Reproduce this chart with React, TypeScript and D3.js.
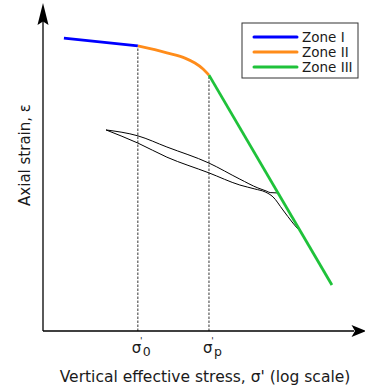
import React from "react";
import * as d3 from "d3";

// Data (x: log stress units 0–100, y: strain units 0–100)
const zone1X = [6.7, 30.4];
const zone1Y = [89.3, 86.9];
const zone2X = [30.4, 39.7, 45.5, 48.7, 51.3, 53.2];
const zone2Y = [86.9, 84.8, 83.2, 81.7, 79.9, 78.0];
const zone3X = [53.2, 92.6];
const zone3Y = [78.0, 14.0];
const unloadX = [20.2, 30.4, 39.7, 53.2, 63.1, 68.9, 71.5, 72.8, 75.0];
const unloadY = [61.3, 59.5, 56.1, 51.2, 46.3, 43.6, 42.7, 42.2, 42.1];
const reloadX = [20.2, 30.4, 39.7, 53.2, 63.1, 67.9, 71.2, 73.7, 76.9, 80.1, 81.7];
const reloadY = [61.3, 57.3, 53.0, 48.2, 44.5, 43.3, 42.4, 40.9, 36.9, 32.9, 31.1];
const sigmaTicks = [
  { x: 30.4, sub: "0", y: 86.9 },
  { x: 53.2, sub: "p", y: 78.0 },
];
const legendLabels = ["Zone I", "Zone II", "Zone III"];
const colors = ["#0000ff", "#ff8c1a", "#1fc23a"];

const W = 365;
const H = 387;
const FONT = "'DejaVu Sans', Verdana, sans-serif";

export default function App() {
  const x = d3.scaleLinear().domain([0, 100]).range([43, 355]);
  const y = d3.scaleLinear().domain([0, 100]).range([331, 3]);
  const zip = (xs: number[], ys: number[]) => xs.map((v, i) => [v, ys[i]] as [number, number]);
  const lin = d3.line<[number, number]>().x((d) => x(d[0])).y((d) => y(d[1]));
  const smooth = d3
    .line<[number, number]>()
    .x((d) => x(d[0]))
    .y((d) => y(d[1]))
    .curve(d3.curveMonotoneX);

  const ax0 = x(0);
  const ay0 = y(0);

  return (
    <div style={{ position: "absolute", left: 0, top: 0 }}>
      <svg width={W} height={H} style={{ display: "block", background: "#fff" }}>
        {/* dashed verticals */}
        {sigmaTicks.map((t, i) => (
          <line
            key={i}
            x1={x(t.x)}
            x2={x(t.x)}
            y1={y(0)}
            y2={y(t.y)}
            stroke="#000"
            strokeWidth={0.8}
            strokeDasharray="2.5,1.5"
          />
        ))}
        {/* axes */}
        <line x1={ax0} y1={ay0} x2={ax0} y2={20} stroke="#000" strokeWidth={1.3} />
        <line x1={ax0} y1={ay0} x2={354} y2={ay0} stroke="#000" strokeWidth={1.3} />
        <path d={`M${ax0},3 L${ax0 + 5.5},25 L${ax0},21.5 L${ax0 - 5.5},25 Z`} fill="#000" />
        <path d={`M366,${ay0} L351.5,${ay0 - 6} L355,${ay0} L351.5,${ay0 + 6} Z`} fill="#000" />
        {/* loop */}
        <path d={smooth(zip(unloadX, unloadY)) || ""} fill="none" stroke="#000" strokeWidth={1} />
        <path d={smooth(zip(reloadX, reloadY)) || ""} fill="none" stroke="#000" strokeWidth={1} />
        {/* zones */}
        <path d={lin(zip(zone1X, zone1Y)) || ""} fill="none" stroke={colors[0]} strokeWidth={2.8} />
        <path d={smooth(zip(zone2X, zone2Y)) || ""} fill="none" stroke={colors[1]} strokeWidth={2.8} />
        <path d={lin(zip(zone3X, zone3Y)) || ""} fill="none" stroke={colors[2]} strokeWidth={2.8} />
        {/* tick labels */}
        {sigmaTicks.map((t, i) => (
          <g key={"t" + i} fontFamily={FONT} fill="#1a1a1a">
            <text x={x(t.x) - 6} y={353} fontSize={15}>
              σ
            </text>
            <text x={x(t.x) + 3.5} y={344} fontSize={9} textAnchor="middle">
              '
            </text>
            <text x={x(t.x) + 5} y={356} fontSize={12.5}>
              {t.sub}
            </text>
          </g>
        ))}
        {/* axis titles */}
        <text x={205} y={382} textAnchor="middle" fontFamily={FONT} fontSize={15.5} fill="#1a1a1a">
          Vertical effective stress, σ' (log scale)
        </text>
        <text
          transform="translate(30,155) rotate(-90)"
          textAnchor="middle"
          fontFamily={FONT}
          fontSize={15}
          fill="#1a1a1a"
        >
          Axial strain, ε
        </text>
        {/* legend */}
        <rect x={242} y={23} width={116} height={55} fill="#fff" stroke="#333" strokeWidth={1} />
        {legendLabels.map((l, i) => (
          <g key={l}>
            <line x1={254} x2={297} y1={37 + i * 15} y2={37 + i * 15} stroke={colors[i]} strokeWidth={3} strokeLinecap="round" />
            <text x={302} y={41.5 + i * 15} fontFamily={FONT} fontSize={13.5} fill="#1a1a1a">
              {l}
            </text>
          </g>
        ))}
      </svg>
    </div>
  );
}
